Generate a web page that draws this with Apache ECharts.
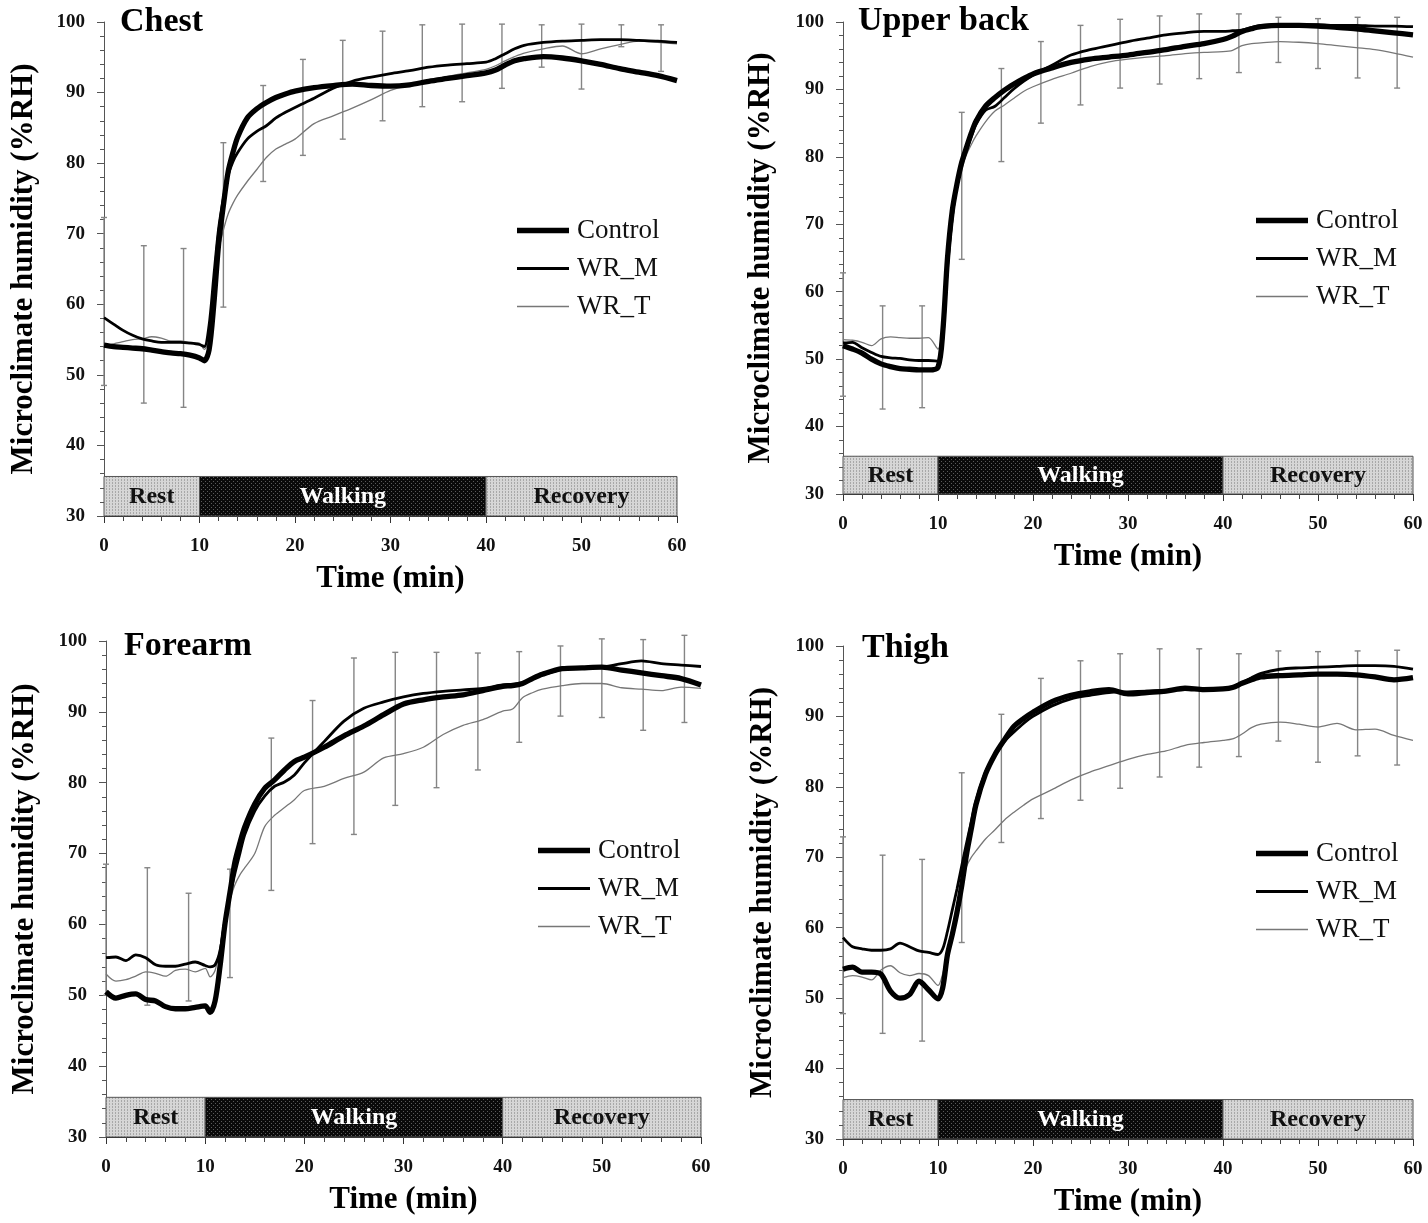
<!DOCTYPE html>
<html>
<head>
<meta charset="utf-8">
<script src="https://cdn.jsdelivr.net/npm/echarts@6/dist/echarts.min.js"></script>
<style>html,body{margin:0;padding:0;background:#fff;}#c{width:1428px;height:1223px;}</style>
</head>
<body>
<div id="c"></div>
<script>
// ---------- DATA ----------
const panelNames = ['Chest', 'Upper back', 'Forearm', 'Thigh'];
const seriesNames = ['Control', 'WR_M', 'WR_T'];
const xTicks = [0, 10, 20, 30, 40, 50, 60];
const yTicks = [30, 40, 50, 60, 70, 80, 90, 100];
const phaseStart = [0, 10, 40];
const phaseEnd = [10, 40, 60];
const phaseLabels = ['Rest', 'Walking', 'Recovery'];
const phaseTop = 35.6;

const time = [0,1,2,3,4,5,6,7,8,9,10,10.5,11,11.5,12,12.5,13,13.5,14,15,16,17,18,19,20,22,24,26,28,30,32,34,36,38,40,41,42,43,44,46,48,50,52,54,56,58,60];

const chestControl = [54.2,54.0,53.9,53.8,53.7,53.5,53.3,53.1,53.0,52.8,52.4,52.0,53.5,60.0,68.5,74.0,78.8,81.5,83.7,86.4,87.7,88.6,89.3,89.8,90.2,90.7,91.0,91.2,91.0,90.9,91.1,91.6,92.0,92.4,92.8,93.2,93.9,94.5,94.8,95.1,94.9,94.5,94.0,93.4,92.9,92.4,91.7];
const chestWRM = [58.1,57.2,56.3,55.6,55.1,54.8,54.6,54.6,54.6,54.5,54.3,54.0,57.0,64.0,70.7,75.0,78.3,80.2,81.5,83.4,84.5,85.3,86.4,87.2,87.9,89.2,90.6,91.6,92.2,92.7,93.1,93.6,93.9,94.1,94.3,94.8,95.5,96.2,96.7,97.1,97.3,97.4,97.5,97.5,97.4,97.3,97.1];
const chestWRT = [54.0,54.4,54.7,55.0,55.1,55.4,55.2,54.8,54.8,54.6,54.5,53.6,55.0,61.0,67.5,70.5,72.8,74.3,75.5,77.4,79.1,80.8,82.0,82.7,83.4,85.6,86.7,87.8,89.0,90.3,91.1,91.7,92.3,92.8,93.3,93.8,94.5,95.1,95.6,96.2,96.6,95.5,96.2,96.8,97.3,97.1,96.9];

const backControl = [52.0,51.5,50.9,50.0,49.3,48.9,48.6,48.5,48.4,48.4,48.8,54.0,65.0,72.0,76.0,79.2,81.4,83.5,85.3,87.5,88.8,89.9,90.8,91.6,92.3,93.2,94.0,94.5,94.8,95.1,95.5,95.9,96.4,96.8,97.4,97.9,98.6,99.0,99.3,99.5,99.5,99.4,99.2,99.0,98.7,98.4,98.1];
const backWRM = [52.4,52.5,51.7,51.0,50.4,50.2,50.1,49.9,49.8,49.8,49.7,53.0,63.8,71.0,76.0,78.8,80.9,83.0,84.8,86.9,87.5,88.8,90.1,91.2,92.1,93.6,95.1,95.9,96.5,97.1,97.6,98.1,98.4,98.6,98.6,98.7,98.8,99.2,99.5,99.6,99.6,99.6,99.5,99.5,99.4,99.4,99.3];
const backWRT = [52.9,52.8,52.5,52.0,53.0,53.3,53.2,53.1,53.1,53.2,51.5,55.0,62.2,70.0,75.5,78.1,80.3,81.8,83.1,85.2,86.8,87.7,88.7,89.7,90.4,91.5,92.4,93.4,94.1,94.5,94.8,95.0,95.3,95.5,95.6,95.8,96.5,96.8,96.9,97.1,97.0,96.8,96.5,96.2,95.9,95.4,94.8];

const forearmControl = [50.5,49.6,50.0,50.2,49.4,49.2,48.4,48.1,48.1,48.3,48.5,47.6,49.2,54.1,60.1,64.5,68.8,71.5,73.8,77.0,79.2,80.4,81.8,83.0,83.6,85.0,86.6,88.0,89.6,91.1,91.7,92.1,92.4,93.0,93.6,93.7,94.0,94.7,95.3,96.1,96.2,96.3,95.9,95.5,95.1,94.7,93.8];
const forearmWRM = [55.3,55.4,54.9,55.7,55.3,54.3,54.1,54.1,54.4,54.7,54.2,54.0,54.3,56.3,60.6,64.0,67.2,70.0,72.7,76.0,78.1,79.5,80.1,81.1,82.8,85.8,88.7,90.5,91.4,92.1,92.6,92.9,93.1,93.3,93.8,93.9,94.1,94.7,95.2,96.0,96.2,96.3,96.8,97.2,96.8,96.6,96.4];
const forearmWRT = [53.0,52.0,52.2,52.7,53.3,53.1,52.7,53.5,53.7,53.3,53.8,52.6,53.5,56.8,61.2,63.5,65.6,67.0,68.0,70.0,73.8,75.4,76.5,77.6,78.9,79.5,80.6,81.5,83.5,84.1,85.0,86.8,88.1,88.9,90.1,90.4,92.0,92.7,93.2,93.7,94.0,94.0,93.4,93.2,93.0,93.5,93.3];

const thighControl = [54.1,54.4,53.7,53.7,53.4,51.0,50.0,50.5,52.4,51.2,49.9,51.5,56.2,59.0,62.2,66.0,70.4,74.0,77.5,81.8,84.6,86.7,88.6,89.7,90.6,92.1,93.0,93.5,93.8,93.2,93.4,93.6,94.0,93.8,93.9,94.1,94.7,95.2,95.6,95.8,95.9,96.0,96.0,95.9,95.6,95.2,95.5];
const thighWRM = [58.6,57.3,57.0,56.8,56.8,57.0,57.8,57.3,56.7,56.5,56.2,57.0,59.5,62.5,65.5,68.8,72.0,75.0,78.0,82.1,84.6,86.5,87.8,89.0,90.0,91.5,92.5,93.0,93.4,93.5,93.6,93.7,93.8,93.8,93.9,94.2,94.8,95.5,96.1,96.7,96.9,97.0,97.1,97.2,97.2,97.1,96.7];
const thighWRT = [52.9,53.2,53.0,52.6,54.0,54.6,53.6,53.2,53.5,53.2,51.8,53.5,56.7,60.0,63.3,66.3,68.7,70.0,70.9,72.6,73.9,75.3,76.4,77.4,78.3,79.6,81.0,82.1,83.0,83.9,84.6,85.1,85.9,86.3,86.6,86.8,87.5,88.4,88.9,89.2,88.9,88.5,89.0,88.1,88.2,87.3,86.6];

const errTime = [0,4.17,8.33,12.5,16.67,20.83,25,29.17,33.33,37.5,41.67,45.83,50,54.17,58.33];
const chestErrHigh = [72.3,68.3,67.9,82.9,91.0,94.7,97.4,98.7,99.6,99.7,99.7,99.6,99.7,99.6,99.6];
const chestErrLow = [48.5,46.0,45.4,59.6,77.4,81.1,83.4,86.0,88.0,88.7,90.6,93.6,90.5,96.5,93.0];
const backErrHigh = [62.8,57.9,57.9,86.6,93.1,97.1,99.5,100.4,100.9,101.2,101.2,100.7,100.5,100.7,100.7];
const backErrLow = [44.5,42.6,42.8,64.8,79.3,85.0,87.7,90.2,90.8,91.6,92.5,94.0,93.1,91.7,90.2];
const forearmErrHigh = [68.5,68.0,64.4,67.8,86.3,91.6,97.6,98.4,98.4,98.3,98.5,99.3,100.3,100.2,100.8];
const forearmErrLow = [50.0,48.6,49.2,52.5,64.8,71.4,72.7,76.8,79.3,81.8,85.7,89.4,89.2,87.4,88.5];
const thighErrHigh = [72.9,70.3,69.7,82.0,90.3,95.4,97.9,98.9,99.6,99.6,98.9,99.3,99.2,99.3,99.4];
const thighErrLow = [47.8,45.0,43.9,57.9,72.1,75.5,78.1,79.8,81.4,82.8,84.3,86.5,83.5,84.4,83.1];

const panelSeries = [
  [chestControl, chestWRM, chestWRT],
  [backControl, backWRM, backWRT],
  [forearmControl, forearmWRM, forearmWRT],
  [thighControl, thighWRM, thighWRT]
];
const panelErr = [
  [chestErrLow, chestErrHigh],
  [backErrLow, backErrHigh],
  [forearmErrLow, forearmErrHigh],
  [thighErrLow, thighErrHigh]
];

// ---------- LAYOUT / STYLE ----------
const FONT = '"Liberation Serif", "Times New Roman", serif';
const grids = [
  {left: 104, top: 22, width: 573, height: 494},
  {left: 843, top: 22, width: 570, height: 472},
  {left: 106, top: 641, width: 595, height: 496},
  {left: 843, top: 646, width: 570, height: 493}
];
const titlePos = [[120, 5], [858, 4], [124, 629], [862, 631]];
const legendPos = [[517, 217], [1256, 207], [538, 837], [1256, 840]];
const yNameGap = [65, 67, 66, 65];
const lineStyles = [
  {color: '#000', width: 5.3},
  {color: '#000', width: 2.8},
  {color: '#777', width: 1.3}
];
// legend icons: a bar of the line's thickness inside a 52x12 box
function barIcon(th) {
  const a = (6 - th / 2).toFixed(2), b = (6 + th / 2).toFixed(2);
  return 'path://M0,0L0.01,0L0,0.01Z M0,12L0.01,12L0,11.99Z M0,' + a + 'L52,' + a + 'L52,' + b + 'L0,' + b + 'Z';
}

function makePattern(bg, dot) {
  const c = document.createElement('canvas');
  c.width = 3; c.height = 3;
  const g = c.getContext('2d');
  g.fillStyle = bg; g.fillRect(0, 0, 3, 3);
  g.fillStyle = dot; g.fillRect(1, 0, 1, 3);
  g.fillStyle = bg; g.fillRect(1, 1, 1, 1);
  return {image: c, repeat: 'repeat'};
}
const lightPat = makePattern('#d6d6d6', '#a8a8a8');
const darkPat = (function () {
  const c = document.createElement('canvas');
  c.width = 4; c.height = 4;
  const g = c.getContext('2d');
  g.fillStyle = '#0a0a0a'; g.fillRect(0, 0, 4, 4);
  g.fillStyle = '#5a5a5a'; g.fillRect(1, 1, 1, 1); g.fillRect(3, 3, 1, 1);
  return {image: c, repeat: 'repeat'};
})();
const phasePatterns = [lightPat, darkPat, lightPat];

const option = {
  animation: false,
  backgroundColor: '#fff',
  grid: grids,
  title: panelNames.map((n, i) => ({
    text: n, left: titlePos[i][0], top: titlePos[i][1], padding: 0,
    textStyle: {fontFamily: FONT, fontWeight: 'bold', fontSize: 34, color: '#000'}
  })),
  legend: panelNames.map((n, i) => ({
    data: seriesNames.map((s, k) => ({name: s, icon: barIcon(lineStyles[k].width),
      itemStyle: {color: lineStyles[k].color, borderWidth: 0}})),
    orient: 'vertical', left: legendPos[i][0], top: legendPos[i][1],
    itemWidth: 52, itemHeight: 12, itemGap: 11, selectedMode: false, padding: 0,
    textStyle: {fontFamily: FONT, fontSize: 27, color: '#111', lineHeight: 27, padding: [0, 0, 0, 3]}
  })),
  xAxis: grids.map((g, i) => ({
    gridIndex: i, type: 'value', min: 0, max: 60, interval: 10,
    name: 'Time (min)', nameLocation: 'middle', nameGap: 47,
    nameTextStyle: {fontFamily: FONT, fontWeight: 'bold', fontSize: 31, color: '#000'},
    axisLine: {show: true, lineStyle: {color: '#222', width: 1}},
    axisTick: {show: true, inside: false, length: 7, lineStyle: {color: '#333'}},
    minorTick: {show: true, splitNumber: 5, length: 5, lineStyle: {color: '#444'}},
    splitLine: {show: false},
    axisLabel: {margin: 21, fontFamily: FONT, fontWeight: 'bold', fontSize: 19, color: '#111',
      formatter: v => xTicks.includes(v) ? String(v) : ''}
  })),
  yAxis: grids.map((g, i) => ({
    gridIndex: i, type: 'value', min: 30, max: 100, interval: 10,
    name: 'Microclimate humidity (%RH)', nameLocation: 'middle', nameGap: yNameGap[i],
    nameTextStyle: {fontFamily: FONT, fontWeight: 'bold', fontSize: 31, color: '#000'},
    axisLine: {show: true, lineStyle: {color: '#555', width: 1}},
    axisTick: {show: true, inside: false, length: 7, lineStyle: {color: '#555'}},
    minorTick: {show: true, splitNumber: 5, length: 4, lineStyle: {color: '#555'}},
    splitLine: {show: false},
    axisLabel: {margin: 19, fontFamily: FONT, fontWeight: 'bold', fontSize: 19, color: '#111',
      formatter: v => yTicks.includes(v) ? String(v) : ''}
  })),
  series: []
};

panelNames.forEach((pn, i) => {
  // phase bar
  option.series.push({
    type: 'custom', xAxisIndex: i, yAxisIndex: i, z: 1, silent: true,
    data: phaseStart.map((s, k) => [s, phaseEnd[k], k]),
    renderItem: (params, api) => {
      const k = api.value(2);
      const p1 = api.coord([api.value(0), phaseTop]);
      const p2 = api.coord([api.value(1), 30]);
      return {type: 'group', children: [
        {type: 'rect', shape: {x: p1[0], y: p1[1], width: p2[0] - p1[0], height: p2[1] - p1[1]},
          style: {fill: phasePatterns[k], stroke: '#555', lineWidth: 1}},
        {type: 'text', style: {text: phaseLabels[k], x: (p1[0] + p2[0]) / 2, y: (p1[1] + p2[1]) / 2 + 1,
          align: 'center', verticalAlign: 'middle', fill: k === 1 ? '#fff' : '#111',
          font: 'bold 24px ' + FONT}}
      ]};
    }
  });
  // error bars
  const [lo, hi] = panelErr[i];
  option.series.push({
    type: 'custom', xAxisIndex: i, yAxisIndex: i, z: 2, silent: true, clip: false,
    data: errTime.map((t, k) => [t, lo[k], hi[k]]),
    renderItem: (params, api) => {
      const pl = api.coord([api.value(0), api.value(1)]);
      const ph = api.coord([api.value(0), api.value(2)]);
      const cw = 3, st = {stroke: '#858585', lineWidth: 1.4};
      return {type: 'group', children: [
        {type: 'line', shape: {x1: pl[0], y1: pl[1], x2: ph[0], y2: ph[1]}, style: st},
        {type: 'line', shape: {x1: ph[0] - cw, y1: ph[1], x2: ph[0] + cw, y2: ph[1]}, style: st},
        {type: 'line', shape: {x1: pl[0] - cw, y1: pl[1], x2: pl[0] + cw, y2: pl[1]}, style: st}
      ]};
    }
  });
  // lines (draw thin first, thick last)
  [2, 1, 0].forEach(s => {
    option.series.push({
      name: seriesNames[s], type: 'line', xAxisIndex: i, yAxisIndex: i, z: 3 + (2 - s),
      data: time.map((t, k) => [t, panelSeries[i][s][k]]),
      showSymbol: false, symbol: 'none', smooth: 0.3,
      lineStyle: lineStyles[s], itemStyle: {color: lineStyles[s].color},
      emphasis: {disabled: true}
    });
  });
});

const chart = echarts.init(document.getElementById('c'), null, {renderer: 'canvas'});
chart.setOption(option);
</script>
</body>
</html>
